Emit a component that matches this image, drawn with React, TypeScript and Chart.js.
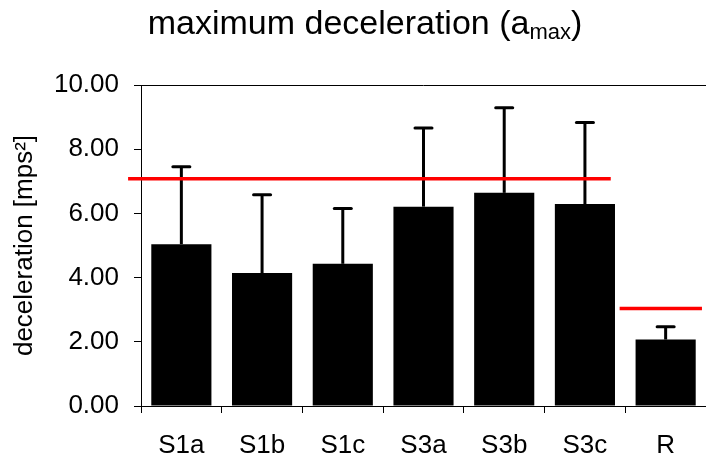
import React, { useEffect, useRef } from "react";
import { Chart, registerables } from "chart.js";

Chart.register(...registerables);

// Test conditions and their mean maximum deceleration with standard deviation
const categories = ["S1a", "S1b", "S1c", "S3a", "S3b", "S3c", "R"];
const meanValues = [5.04, 4.14, 4.43, 6.21, 6.64, 6.29, 2.07];
const sdValues = [2.41, 2.44, 1.72, 2.45, 2.65, 2.54, 0.4];

// Y axis range and step
const yMin = 0;
const yMax = 10;
const yStep = 2;

// Reference limits: value and category span (fractional category index)
const limitValues = [7.08, 3.04];
const limitFrom = [-0.66, 5.43];
const limitTo = [5.32, 6.45];

const FONT = "'Liberation Sans', Arial, Helvetica, sans-serif";

const titlePlugin = {
  id: "subscriptTitle",
  afterDraw(chart: any) {
    const ctx = chart.ctx;
    const main = "maximum deceleration (a";
    const sub = "max";
    const close = ")";
    ctx.save();
    ctx.fillStyle = "#000";
    ctx.textBaseline = "alphabetic";
    ctx.textAlign = "left";
    ctx.font = `34px ${FONT}`;
    const wMain = ctx.measureText(main).width;
    const wClose = ctx.measureText(close).width;
    ctx.font = `22px ${FONT}`;
    const wSub = ctx.measureText(sub).width;
    const total = wMain + wSub + wClose;
    const cx = chart.width / 2 + 12;
    let x = cx - total / 2;
    const baseline = 34;
    ctx.font = `34px ${FONT}`;
    ctx.fillText(main, x, baseline);
    x += wMain;
    ctx.font = `22px ${FONT}`;
    ctx.fillText(sub, x, baseline + 5);
    x += wSub;
    ctx.font = `34px ${FONT}`;
    ctx.fillText(close, x, baseline);
    ctx.restore();
  },
};

const framePlugin = {
  id: "topFrame",
  beforeDatasetsDraw(chart: any) {
    const { ctx, chartArea } = chart;
    ctx.save();
    ctx.strokeStyle = "#000";
    ctx.lineWidth = 1;
    ctx.beginPath();
    ctx.moveTo(chartArea.left, chartArea.top + 0.5);
    ctx.lineTo(chartArea.right, chartArea.top + 0.5);
    ctx.stroke();
    ctx.restore();
  },
};

const errorBarPlugin = {
  id: "errorBars",
  afterDatasetsDraw(chart: any) {
    const ctx = chart.ctx;
    const yScale = chart.scales.y;
    const meta = chart.getDatasetMeta(0);
    ctx.save();
    ctx.strokeStyle = "#000";
    ctx.lineWidth = 3;
    meta.data.forEach((bar: any, i: number) => {
      const top = yScale.getPixelForValue(meanValues[i] + sdValues[i]);
      ctx.lineCap = "butt";
      ctx.beginPath();
      ctx.moveTo(bar.x, bar.y);
      ctx.lineTo(bar.x, top);
      ctx.stroke();
      ctx.lineCap = "round";
      ctx.beginPath();
      ctx.moveTo(bar.x - 8.5, top);
      ctx.lineTo(bar.x + 8.5, top);
      ctx.stroke();
    });
    ctx.restore();
  },
};

const limitPlugin = {
  id: "limitLines",
  afterDatasetsDraw(chart: any) {
    const ctx = chart.ctx;
    const xScale = chart.scales.x;
    const yScale = chart.scales.y;
    ctx.save();
    ctx.strokeStyle = "#ff0000";
    ctx.lineWidth = 3.5;
    ctx.lineCap = "butt";
    limitValues.forEach((v, i) => {
      const y = yScale.getPixelForValue(v);
      ctx.beginPath();
      ctx.moveTo(xScale.getPixelForValue(limitFrom[i]), y);
      ctx.lineTo(xScale.getPixelForValue(limitTo[i]), y);
      ctx.stroke();
    });
    ctx.restore();
  },
};

export default function App() {
  const canvasRef = useRef<HTMLCanvasElement | null>(null);

  useEffect(() => {
    document.body.style.margin = "0";
    const canvas = canvasRef.current;
    if (!canvas) return;
    const chart = new Chart(canvas, {
      type: "bar",
      data: {
        labels: categories,
        datasets: [
          {
            data: meanValues,
            backgroundColor: "#000",
            borderWidth: 0,
            barPercentage: 0.745,
            categoryPercentage: 1,
          },
        ],
      },
      options: {
        responsive: false,
        animation: false,
        devicePixelRatio: 1,
        layout: { padding: { top: 85, left: 0, right: 0, bottom: 0 } },
        plugins: {
          legend: { display: false },
          title: { display: false },
          tooltip: { enabled: false },
        },
        scales: {
          x: {
            type: "category",
            offset: true,
            grid: {
              offset: true,
              drawOnChartArea: false,
              drawTicks: true,
              tickLength: 7,
              color: "#000",
              lineWidth: 1,
            },
            border: { display: true, color: "#000", width: 1 },
            ticks: {
              color: "#000",
              font: { family: FONT, size: 26 },
              padding: 17,
              maxRotation: 0,
              autoSkip: false,
            },
            afterFit(scale: any) {
              scale.height = 52;
            },
          },
          y: {
            min: yMin,
            max: yMax,
            grid: {
              drawOnChartArea: false,
              drawTicks: true,
              tickLength: 7,
              color: "#000",
              lineWidth: 1,
            },
            border: { display: true, color: "#000", width: 1 },
            ticks: {
              stepSize: yStep,
              color: "#000",
              font: { family: FONT, size: 26 },
              padding: 15,
              callback: (v: any) => Number(v).toFixed(2),
            },
            title: {
              display: true,
              text: "deceleration [mps²]",
              color: "#000",
              font: { family: FONT, size: 26 },
              padding: { top: 9, bottom: 0 },
            },
            afterFit(scale: any) {
              scale.width = 141;
            },
          },
        },
      },
      plugins: [framePlugin, errorBarPlugin, limitPlugin, titlePlugin],
    });
    return () => chart.destroy();
  }, []);

  return (
    <div style={{ width: 706, height: 458 }}>
      <canvas ref={canvasRef} width={706} height={458} style={{ display: "block" }} />
    </div>
  );
}
